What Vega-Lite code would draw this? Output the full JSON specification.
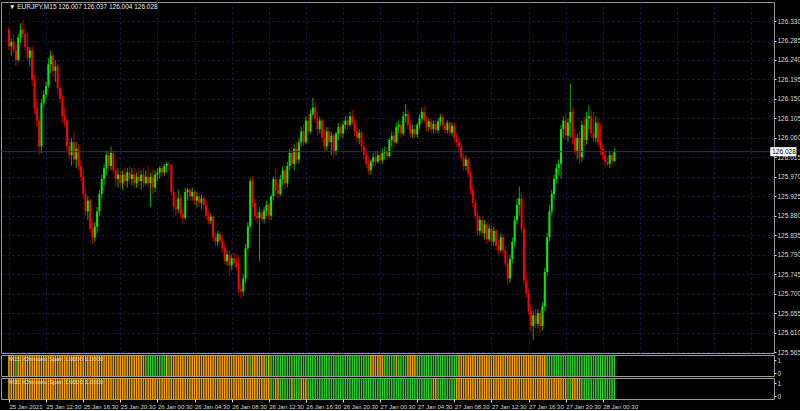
{
"$schema": "https://vega.github.io/schema/vega-lite/v6.json",
"background": "#000000",
"padding": {"top": 1, "left": 0, "right": 0, "bottom": 0},
"bounds": "flush",
"spacing": 2,
"config": {
  "view": {"stroke": "#9a9a9a", "strokeWidth": 1},
  "axis": {"labelFont": "Liberation Sans", "labelFontSize": 6.5, "labelColor": "#d8d8d8", "tickColor": "#d8d8d8", "gridColor": "#1e1e58", "gridDash": [2, 3], "gridWidth": 1, "domain": false, "labelOverlap": false},
  "text": {"font": "Liberation Sans"}
},
"datasets": {
"bars": [
{"i":0,"o":126.310,"h":126.318,"l":126.262,"c":126.272,"a":0,"b":0},
{"i":1,"o":126.272,"h":126.290,"l":126.250,"c":126.282,"a":0,"b":0},
{"i":2,"o":126.282,"h":126.300,"l":126.255,"c":126.262,"a":0,"b":0},
{"i":3,"o":126.262,"h":126.275,"l":126.225,"c":126.240,"a":1,"b":0},
{"i":4,"o":126.240,"h":126.300,"l":126.235,"c":126.292,"a":0,"b":0},
{"i":5,"o":126.292,"h":126.325,"l":126.280,"c":126.310,"a":0,"b":0},
{"i":6,"o":126.310,"h":126.332,"l":126.290,"c":126.300,"a":0,"b":0},
{"i":7,"o":126.300,"h":126.312,"l":126.262,"c":126.270,"a":0,"b":0},
{"i":8,"o":126.270,"h":126.302,"l":126.238,"c":126.245,"a":0,"b":0},
{"i":9,"o":126.245,"h":126.270,"l":126.225,"c":126.262,"a":0,"b":0},
{"i":10,"o":126.262,"h":126.272,"l":126.180,"c":126.195,"a":0,"b":0},
{"i":11,"o":126.195,"h":126.205,"l":126.115,"c":126.130,"a":0,"b":0},
{"i":12,"o":126.130,"h":126.150,"l":126.085,"c":126.100,"a":0,"b":0},
{"i":13,"o":126.100,"h":126.110,"l":126.020,"c":126.040,"a":0,"b":0},
{"i":14,"o":126.040,"h":126.150,"l":126.025,"c":126.140,"a":0,"b":0},
{"i":15,"o":126.140,"h":126.170,"l":126.130,"c":126.160,"a":0,"b":0},
{"i":16,"o":126.160,"h":126.190,"l":126.150,"c":126.180,"a":0,"b":0},
{"i":17,"o":126.180,"h":126.245,"l":126.175,"c":126.230,"a":0,"b":0},
{"i":18,"o":126.230,"h":126.262,"l":126.210,"c":126.250,"a":0,"b":0},
{"i":19,"o":126.250,"h":126.258,"l":126.200,"c":126.215,"a":0,"b":0},
{"i":20,"o":126.215,"h":126.240,"l":126.190,"c":126.225,"a":0,"b":0},
{"i":21,"o":126.225,"h":126.232,"l":126.160,"c":126.175,"a":0,"b":0},
{"i":22,"o":126.175,"h":126.180,"l":126.140,"c":126.150,"a":0,"b":0},
{"i":23,"o":126.150,"h":126.160,"l":126.095,"c":126.110,"a":0,"b":0},
{"i":24,"o":126.110,"h":126.130,"l":126.085,"c":126.100,"a":0,"b":0},
{"i":25,"o":126.100,"h":126.105,"l":126.030,"c":126.040,"a":0,"b":0},
{"i":26,"o":126.040,"h":126.060,"l":126.010,"c":126.020,"a":0,"b":0},
{"i":27,"o":126.020,"h":126.060,"l":125.995,"c":126.050,"a":0,"b":0},
{"i":28,"o":126.050,"h":126.075,"l":126.000,"c":126.010,"a":0,"b":0},
{"i":29,"o":126.010,"h":126.050,"l":125.990,"c":126.035,"a":0,"b":0},
{"i":30,"o":126.035,"h":126.045,"l":125.985,"c":125.995,"a":0,"b":0},
{"i":31,"o":125.995,"h":126.010,"l":125.960,"c":125.970,"a":0,"b":0},
{"i":32,"o":125.970,"h":125.985,"l":125.920,"c":125.930,"a":0,"b":0},
{"i":33,"o":125.930,"h":125.945,"l":125.880,"c":125.890,"a":0,"b":0},
{"i":34,"o":125.890,"h":125.925,"l":125.870,"c":125.915,"a":0,"b":0},
{"i":35,"o":125.915,"h":125.920,"l":125.840,"c":125.850,"a":0,"b":0},
{"i":36,"o":125.850,"h":125.865,"l":125.815,"c":125.830,"a":0,"b":0},
{"i":37,"o":125.830,"h":125.865,"l":125.820,"c":125.855,"a":0,"b":0},
{"i":38,"o":125.855,"h":125.900,"l":125.840,"c":125.890,"a":0,"b":0},
{"i":39,"o":125.890,"h":125.940,"l":125.880,"c":125.930,"a":0,"b":0},
{"i":40,"o":125.930,"h":125.975,"l":125.920,"c":125.965,"a":0,"b":0},
{"i":41,"o":125.965,"h":126.000,"l":125.950,"c":125.990,"a":0,"b":0},
{"i":42,"o":125.990,"h":126.030,"l":125.975,"c":126.020,"a":0,"b":0},
{"i":43,"o":126.020,"h":126.028,"l":125.985,"c":125.995,"a":0,"b":0},
{"i":44,"o":125.995,"h":126.040,"l":125.985,"c":126.025,"a":0,"b":0},
{"i":45,"o":126.025,"h":126.030,"l":125.975,"c":125.985,"a":0,"b":0},
{"i":46,"o":125.985,"h":125.995,"l":125.950,"c":125.965,"a":0,"b":0},
{"i":47,"o":125.965,"h":125.990,"l":125.945,"c":125.975,"a":0,"b":0},
{"i":48,"o":125.975,"h":125.985,"l":125.945,"c":125.955,"a":0,"b":0},
{"i":49,"o":125.955,"h":125.985,"l":125.940,"c":125.975,"a":0,"b":0},
{"i":50,"o":125.975,"h":125.990,"l":125.950,"c":125.960,"a":0,"b":0},
{"i":51,"o":125.960,"h":125.990,"l":125.945,"c":125.980,"a":0,"b":0},
{"i":52,"o":125.980,"h":125.995,"l":125.955,"c":125.965,"a":0,"b":0},
{"i":53,"o":125.965,"h":125.990,"l":125.950,"c":125.975,"a":0,"b":0},
{"i":54,"o":125.975,"h":125.990,"l":125.945,"c":125.955,"a":0,"b":0},
{"i":55,"o":125.955,"h":125.980,"l":125.945,"c":125.970,"a":0,"b":0},
{"i":56,"o":125.970,"h":125.990,"l":125.950,"c":125.960,"a":0,"b":0},
{"i":57,"o":125.960,"h":125.985,"l":125.940,"c":125.975,"a":0,"b":0},
{"i":58,"o":125.975,"h":125.990,"l":125.945,"c":125.955,"a":0,"b":0},
{"i":59,"o":125.955,"h":125.985,"l":125.950,"c":125.970,"a":1,"b":0},
{"i":60,"o":125.970,"h":125.995,"l":125.945,"c":125.955,"a":1,"b":0},
{"i":61,"o":125.955,"h":125.980,"l":125.900,"c":125.970,"a":1,"b":0},
{"i":62,"o":125.970,"h":125.985,"l":125.930,"c":125.945,"a":1,"b":0},
{"i":63,"o":125.945,"h":125.985,"l":125.935,"c":125.975,"a":1,"b":0},
{"i":64,"o":125.975,"h":125.990,"l":125.960,"c":125.980,"a":1,"b":0},
{"i":65,"o":125.980,"h":125.995,"l":125.965,"c":125.990,"a":1,"b":0},
{"i":66,"o":125.990,"h":125.998,"l":125.970,"c":125.980,"a":1,"b":0},
{"i":67,"o":125.980,"h":126.000,"l":125.972,"c":125.995,"a":1,"b":0},
{"i":68,"o":125.995,"h":126.005,"l":125.980,"c":126.000,"a":0,"b":0},
{"i":69,"o":126.000,"h":126.008,"l":125.985,"c":125.998,"a":1,"b":0},
{"i":70,"o":125.998,"h":126.000,"l":125.925,"c":125.935,"a":0,"b":0},
{"i":71,"o":125.935,"h":125.945,"l":125.890,"c":125.900,"a":0,"b":0},
{"i":72,"o":125.900,"h":125.925,"l":125.880,"c":125.895,"a":0,"b":0},
{"i":73,"o":125.895,"h":125.940,"l":125.885,"c":125.920,"a":0,"b":0},
{"i":74,"o":125.920,"h":125.930,"l":125.875,"c":125.885,"a":0,"b":0},
{"i":75,"o":125.885,"h":125.895,"l":125.860,"c":125.875,"a":0,"b":0},
{"i":76,"o":125.875,"h":125.945,"l":125.870,"c":125.935,"a":0,"b":0},
{"i":77,"o":125.935,"h":125.945,"l":125.915,"c":125.940,"a":0,"b":0},
{"i":78,"o":125.940,"h":125.945,"l":125.915,"c":125.925,"a":0,"b":0},
{"i":79,"o":125.925,"h":125.945,"l":125.915,"c":125.935,"a":0,"b":0},
{"i":80,"o":125.935,"h":125.940,"l":125.905,"c":125.915,"a":0,"b":0},
{"i":81,"o":125.915,"h":125.935,"l":125.900,"c":125.925,"a":0,"b":0},
{"i":82,"o":125.925,"h":125.932,"l":125.900,"c":125.910,"a":0,"b":0},
{"i":83,"o":125.910,"h":125.930,"l":125.895,"c":125.920,"a":0,"b":0},
{"i":84,"o":125.920,"h":125.925,"l":125.895,"c":125.905,"a":0,"b":0},
{"i":85,"o":125.905,"h":125.915,"l":125.870,"c":125.880,"a":0,"b":0},
{"i":86,"o":125.880,"h":125.890,"l":125.860,"c":125.868,"a":0,"b":0},
{"i":87,"o":125.868,"h":125.885,"l":125.860,"c":125.878,"a":0,"b":0},
{"i":88,"o":125.878,"h":125.880,"l":125.820,"c":125.830,"a":0,"b":0},
{"i":89,"o":125.830,"h":125.840,"l":125.810,"c":125.820,"a":0,"b":0},
{"i":90,"o":125.820,"h":125.845,"l":125.810,"c":125.838,"a":0,"b":0},
{"i":91,"o":125.838,"h":125.842,"l":125.815,"c":125.822,"a":0,"b":0},
{"i":92,"o":125.822,"h":125.830,"l":125.795,"c":125.805,"a":0,"b":0},
{"i":93,"o":125.805,"h":125.815,"l":125.768,"c":125.775,"a":0,"b":0},
{"i":94,"o":125.775,"h":125.800,"l":125.765,"c":125.790,"a":0,"b":0},
{"i":95,"o":125.790,"h":125.800,"l":125.740,"c":125.765,"a":0,"b":0},
{"i":96,"o":125.765,"h":125.790,"l":125.755,"c":125.782,"a":0,"b":0},
{"i":97,"o":125.782,"h":125.795,"l":125.760,"c":125.770,"a":0,"b":0},
{"i":98,"o":125.770,"h":125.790,"l":125.755,"c":125.762,"a":0,"b":0},
{"i":99,"o":125.762,"h":125.785,"l":125.700,"c":125.710,"a":0,"b":0},
{"i":100,"o":125.710,"h":125.725,"l":125.688,"c":125.705,"a":0,"b":0},
{"i":101,"o":125.705,"h":125.745,"l":125.695,"c":125.735,"a":0,"b":0},
{"i":102,"o":125.735,"h":125.815,"l":125.725,"c":125.805,"a":0,"b":0},
{"i":103,"o":125.805,"h":125.865,"l":125.800,"c":125.855,"a":0,"b":0},
{"i":104,"o":125.855,"h":125.968,"l":125.850,"c":125.960,"a":1,"b":0},
{"i":105,"o":125.960,"h":125.972,"l":125.900,"c":125.910,"a":0,"b":0},
{"i":106,"o":125.910,"h":125.920,"l":125.870,"c":125.880,"a":0,"b":0},
{"i":107,"o":125.880,"h":125.895,"l":125.860,"c":125.875,"a":0,"b":0},
{"i":108,"o":125.875,"h":125.900,"l":125.775,"c":125.888,"a":0,"b":0},
{"i":109,"o":125.888,"h":125.895,"l":125.865,"c":125.872,"a":0,"b":0},
{"i":110,"o":125.872,"h":125.900,"l":125.862,"c":125.892,"a":0,"b":0},
{"i":111,"o":125.892,"h":125.915,"l":125.880,"c":125.905,"a":1,"b":0},
{"i":112,"o":125.905,"h":125.910,"l":125.870,"c":125.880,"a":0,"b":0},
{"i":113,"o":125.880,"h":125.930,"l":125.870,"c":125.925,"a":1,"b":1},
{"i":114,"o":125.925,"h":125.970,"l":125.915,"c":125.965,"a":1,"b":1},
{"i":115,"o":125.965,"h":125.990,"l":125.925,"c":125.940,"a":1,"b":0},
{"i":116,"o":125.940,"h":125.955,"l":125.920,"c":125.930,"a":1,"b":0},
{"i":117,"o":125.930,"h":125.975,"l":125.925,"c":125.965,"a":1,"b":1},
{"i":118,"o":125.965,"h":125.995,"l":125.950,"c":125.985,"a":1,"b":1},
{"i":119,"o":125.985,"h":125.995,"l":125.940,"c":125.955,"a":1,"b":1},
{"i":120,"o":125.955,"h":126.005,"l":125.945,"c":125.995,"a":1,"b":1},
{"i":121,"o":125.995,"h":126.035,"l":125.985,"c":126.025,"a":1,"b":1},
{"i":122,"o":126.025,"h":126.040,"l":125.990,"c":126.000,"a":1,"b":0},
{"i":123,"o":126.000,"h":126.045,"l":125.985,"c":126.035,"a":1,"b":1},
{"i":124,"o":126.035,"h":126.050,"l":126.000,"c":126.010,"a":1,"b":1},
{"i":125,"o":126.010,"h":126.060,"l":126.000,"c":126.050,"a":1,"b":1},
{"i":126,"o":126.050,"h":126.085,"l":126.040,"c":126.075,"a":1,"b":0},
{"i":127,"o":126.075,"h":126.090,"l":126.040,"c":126.050,"a":1,"b":0},
{"i":128,"o":126.050,"h":126.110,"l":126.045,"c":126.100,"a":1,"b":0},
{"i":129,"o":126.100,"h":126.115,"l":126.065,"c":126.075,"a":1,"b":1},
{"i":130,"o":126.075,"h":126.125,"l":126.070,"c":126.115,"a":1,"b":1},
{"i":131,"o":126.115,"h":126.152,"l":126.110,"c":126.130,"a":1,"b":1},
{"i":132,"o":126.130,"h":126.145,"l":126.095,"c":126.105,"a":1,"b":1},
{"i":133,"o":126.105,"h":126.120,"l":126.065,"c":126.080,"a":1,"b":1},
{"i":134,"o":126.080,"h":126.110,"l":126.070,"c":126.100,"a":1,"b":1},
{"i":135,"o":126.100,"h":126.105,"l":126.050,"c":126.060,"a":1,"b":1},
{"i":136,"o":126.060,"h":126.080,"l":126.030,"c":126.040,"a":1,"b":1},
{"i":137,"o":126.040,"h":126.085,"l":126.030,"c":126.075,"a":1,"b":1},
{"i":138,"o":126.075,"h":126.085,"l":126.040,"c":126.050,"a":1,"b":1},
{"i":139,"o":126.050,"h":126.075,"l":126.020,"c":126.065,"a":1,"b":1},
{"i":140,"o":126.065,"h":126.070,"l":126.015,"c":126.030,"a":1,"b":1},
{"i":141,"o":126.030,"h":126.075,"l":126.020,"c":126.070,"a":1,"b":1},
{"i":142,"o":126.070,"h":126.095,"l":126.055,"c":126.085,"a":1,"b":1},
{"i":143,"o":126.085,"h":126.095,"l":126.060,"c":126.070,"a":1,"b":1},
{"i":144,"o":126.070,"h":126.100,"l":126.060,"c":126.090,"a":1,"b":1},
{"i":145,"o":126.090,"h":126.110,"l":126.080,"c":126.100,"a":1,"b":1},
{"i":146,"o":126.100,"h":126.112,"l":126.080,"c":126.090,"a":1,"b":1},
{"i":147,"o":126.090,"h":126.120,"l":126.085,"c":126.110,"a":1,"b":1},
{"i":148,"o":126.110,"h":126.125,"l":126.090,"c":126.095,"a":1,"b":1},
{"i":149,"o":126.095,"h":126.105,"l":126.065,"c":126.075,"a":1,"b":1},
{"i":150,"o":126.075,"h":126.090,"l":126.050,"c":126.060,"a":1,"b":1},
{"i":151,"o":126.060,"h":126.080,"l":126.045,"c":126.072,"a":1,"b":1},
{"i":152,"o":126.072,"h":126.078,"l":126.030,"c":126.040,"a":1,"b":1},
{"i":153,"o":126.040,"h":126.050,"l":126.010,"c":126.020,"a":1,"b":1},
{"i":154,"o":126.020,"h":126.035,"l":125.990,"c":126.000,"a":1,"b":1},
{"i":155,"o":126.000,"h":126.015,"l":125.975,"c":125.985,"a":1,"b":1},
{"i":156,"o":125.985,"h":126.010,"l":125.975,"c":126.005,"a":0,"b":1},
{"i":157,"o":126.005,"h":126.025,"l":125.995,"c":126.015,"a":0,"b":1},
{"i":158,"o":126.015,"h":126.030,"l":125.995,"c":126.005,"a":0,"b":1},
{"i":159,"o":126.005,"h":126.030,"l":126.000,"c":126.020,"a":0,"b":1},
{"i":160,"o":126.020,"h":126.028,"l":126.000,"c":126.008,"a":0,"b":1},
{"i":161,"o":126.008,"h":126.035,"l":126.000,"c":126.025,"a":0,"b":1},
{"i":162,"o":126.025,"h":126.040,"l":126.010,"c":126.030,"a":1,"b":1},
{"i":163,"o":126.030,"h":126.040,"l":126.010,"c":126.018,"a":1,"b":1},
{"i":164,"o":126.018,"h":126.060,"l":126.015,"c":126.055,"a":1,"b":1},
{"i":165,"o":126.055,"h":126.075,"l":126.040,"c":126.065,"a":1,"b":1},
{"i":166,"o":126.065,"h":126.075,"l":126.040,"c":126.050,"a":1,"b":1},
{"i":167,"o":126.050,"h":126.095,"l":126.045,"c":126.085,"a":0,"b":1},
{"i":168,"o":126.085,"h":126.100,"l":126.070,"c":126.090,"a":1,"b":1},
{"i":169,"o":126.090,"h":126.100,"l":126.060,"c":126.070,"a":1,"b":1},
{"i":170,"o":126.070,"h":126.120,"l":126.065,"c":126.110,"a":1,"b":1},
{"i":171,"o":126.110,"h":126.138,"l":126.095,"c":126.115,"a":1,"b":1},
{"i":172,"o":126.115,"h":126.125,"l":126.080,"c":126.090,"a":0,"b":1},
{"i":173,"o":126.090,"h":126.100,"l":126.060,"c":126.070,"a":0,"b":1},
{"i":174,"o":126.070,"h":126.090,"l":126.060,"c":126.080,"a":0,"b":1},
{"i":175,"o":126.080,"h":126.090,"l":126.060,"c":126.068,"a":0,"b":1},
{"i":176,"o":126.068,"h":126.095,"l":126.060,"c":126.090,"a":1,"b":1},
{"i":177,"o":126.090,"h":126.115,"l":126.080,"c":126.105,"a":1,"b":1},
{"i":178,"o":126.105,"h":126.130,"l":126.095,"c":126.120,"a":1,"b":1},
{"i":179,"o":126.120,"h":126.135,"l":126.095,"c":126.100,"a":1,"b":1},
{"i":180,"o":126.100,"h":126.110,"l":126.075,"c":126.085,"a":1,"b":1},
{"i":181,"o":126.085,"h":126.105,"l":126.075,"c":126.098,"a":1,"b":1},
{"i":182,"o":126.098,"h":126.105,"l":126.070,"c":126.080,"a":1,"b":1},
{"i":183,"o":126.080,"h":126.100,"l":126.070,"c":126.092,"a":1,"b":0},
{"i":184,"o":126.092,"h":126.100,"l":126.070,"c":126.078,"a":1,"b":0},
{"i":185,"o":126.078,"h":126.105,"l":126.070,"c":126.098,"a":1,"b":1},
{"i":186,"o":126.098,"h":126.115,"l":126.088,"c":126.108,"a":1,"b":1},
{"i":187,"o":126.108,"h":126.115,"l":126.080,"c":126.088,"a":1,"b":1},
{"i":188,"o":126.088,"h":126.095,"l":126.070,"c":126.078,"a":1,"b":1},
{"i":189,"o":126.078,"h":126.100,"l":126.070,"c":126.095,"a":1,"b":1},
{"i":190,"o":126.095,"h":126.100,"l":126.065,"c":126.072,"a":1,"b":1},
{"i":191,"o":126.072,"h":126.095,"l":126.065,"c":126.088,"a":1,"b":1},
{"i":192,"o":126.088,"h":126.095,"l":126.050,"c":126.060,"a":1,"b":1},
{"i":193,"o":126.060,"h":126.070,"l":126.040,"c":126.050,"a":1,"b":0},
{"i":194,"o":126.050,"h":126.060,"l":126.030,"c":126.040,"a":0,"b":0},
{"i":195,"o":126.040,"h":126.050,"l":126.005,"c":126.015,"a":0,"b":0},
{"i":196,"o":126.015,"h":126.025,"l":125.985,"c":125.995,"a":0,"b":0},
{"i":197,"o":125.995,"h":126.020,"l":125.985,"c":126.010,"a":0,"b":0},
{"i":198,"o":126.010,"h":126.015,"l":125.970,"c":125.978,"a":0,"b":0},
{"i":199,"o":125.978,"h":125.985,"l":125.930,"c":125.940,"a":0,"b":0},
{"i":200,"o":125.940,"h":125.950,"l":125.900,"c":125.910,"a":0,"b":0},
{"i":201,"o":125.910,"h":125.920,"l":125.870,"c":125.880,"a":0,"b":0},
{"i":202,"o":125.880,"h":125.890,"l":125.835,"c":125.845,"a":0,"b":0},
{"i":203,"o":125.845,"h":125.880,"l":125.835,"c":125.870,"a":0,"b":0},
{"i":204,"o":125.870,"h":125.880,"l":125.830,"c":125.840,"a":0,"b":0},
{"i":205,"o":125.840,"h":125.870,"l":125.825,"c":125.860,"a":0,"b":0},
{"i":206,"o":125.860,"h":125.865,"l":125.815,"c":125.825,"a":0,"b":0},
{"i":207,"o":125.825,"h":125.860,"l":125.820,"c":125.850,"a":0,"b":0},
{"i":208,"o":125.850,"h":125.860,"l":125.810,"c":125.820,"a":0,"b":0},
{"i":209,"o":125.820,"h":125.855,"l":125.810,"c":125.845,"a":0,"b":0},
{"i":210,"o":125.845,"h":125.850,"l":125.800,"c":125.810,"a":0,"b":0},
{"i":211,"o":125.810,"h":125.825,"l":125.790,"c":125.800,"a":0,"b":0},
{"i":212,"o":125.800,"h":125.840,"l":125.795,"c":125.830,"a":0,"b":0},
{"i":213,"o":125.830,"h":125.838,"l":125.790,"c":125.800,"a":0,"b":0},
{"i":214,"o":125.800,"h":125.810,"l":125.760,"c":125.770,"a":0,"b":0},
{"i":215,"o":125.770,"h":125.785,"l":125.720,"c":125.735,"a":0,"b":0},
{"i":216,"o":125.735,"h":125.790,"l":125.725,"c":125.780,"a":0,"b":0},
{"i":217,"o":125.780,"h":125.830,"l":125.770,"c":125.820,"a":0,"b":0},
{"i":218,"o":125.820,"h":125.880,"l":125.810,"c":125.870,"a":0,"b":0},
{"i":219,"o":125.870,"h":125.920,"l":125.860,"c":125.905,"a":0,"b":0},
{"i":220,"o":125.905,"h":125.948,"l":125.880,"c":125.920,"a":0,"b":0},
{"i":221,"o":125.920,"h":125.930,"l":125.840,"c":125.850,"a":0,"b":0},
{"i":222,"o":125.850,"h":125.860,"l":125.720,"c":125.730,"a":0,"b":0},
{"i":223,"o":125.730,"h":125.745,"l":125.690,"c":125.700,"a":0,"b":0},
{"i":224,"o":125.700,"h":125.710,"l":125.650,"c":125.660,"a":0,"b":0},
{"i":225,"o":125.660,"h":125.675,"l":125.610,"c":125.625,"a":0,"b":0},
{"i":226,"o":125.625,"h":125.660,"l":125.592,"c":125.650,"a":0,"b":0},
{"i":227,"o":125.650,"h":125.665,"l":125.620,"c":125.630,"a":0,"b":0},
{"i":228,"o":125.630,"h":125.665,"l":125.620,"c":125.655,"a":0,"b":0},
{"i":229,"o":125.655,"h":125.665,"l":125.610,"c":125.625,"a":0,"b":0},
{"i":230,"o":125.625,"h":125.680,"l":125.615,"c":125.670,"a":0,"b":0},
{"i":231,"o":125.670,"h":125.760,"l":125.660,"c":125.750,"a":0,"b":0},
{"i":232,"o":125.750,"h":125.840,"l":125.740,"c":125.830,"a":1,"b":0},
{"i":233,"o":125.830,"h":125.905,"l":125.820,"c":125.890,"a":1,"b":0},
{"i":234,"o":125.890,"h":125.940,"l":125.880,"c":125.930,"a":1,"b":0},
{"i":235,"o":125.930,"h":125.975,"l":125.920,"c":125.965,"a":1,"b":0},
{"i":236,"o":125.965,"h":126.000,"l":125.955,"c":125.990,"a":1,"b":0},
{"i":237,"o":125.990,"h":126.010,"l":125.975,"c":126.000,"a":1,"b":0},
{"i":238,"o":126.000,"h":126.090,"l":125.965,"c":126.080,"a":1,"b":0},
{"i":239,"o":126.080,"h":126.110,"l":126.060,"c":126.100,"a":1,"b":0},
{"i":240,"o":126.100,"h":126.115,"l":126.055,"c":126.065,"a":1,"b":0},
{"i":241,"o":126.065,"h":126.105,"l":126.050,"c":126.095,"a":1,"b":1},
{"i":242,"o":126.095,"h":126.185,"l":126.060,"c":126.120,"a":1,"b":1},
{"i":243,"o":126.120,"h":126.130,"l":126.045,"c":126.060,"a":1,"b":0},
{"i":244,"o":126.060,"h":126.080,"l":126.020,"c":126.030,"a":1,"b":0},
{"i":245,"o":126.030,"h":126.070,"l":126.010,"c":126.060,"a":1,"b":0},
{"i":246,"o":126.060,"h":126.075,"l":126.000,"c":126.015,"a":1,"b":0},
{"i":247,"o":126.015,"h":126.100,"l":126.005,"c":126.090,"a":1,"b":1},
{"i":248,"o":126.090,"h":126.110,"l":126.040,"c":126.055,"a":1,"b":1},
{"i":249,"o":126.055,"h":126.120,"l":126.045,"c":126.105,"a":1,"b":1},
{"i":250,"o":126.105,"h":126.135,"l":126.080,"c":126.110,"a":1,"b":1},
{"i":251,"o":126.110,"h":126.125,"l":126.060,"c":126.070,"a":1,"b":1},
{"i":252,"o":126.070,"h":126.120,"l":126.050,"c":126.060,"a":1,"b":1},
{"i":253,"o":126.060,"h":126.110,"l":126.050,"c":126.095,"a":1,"b":1},
{"i":254,"o":126.095,"h":126.105,"l":126.040,"c":126.050,"a":1,"b":1},
{"i":255,"o":126.050,"h":126.090,"l":126.020,"c":126.035,"a":1,"b":1},
{"i":256,"o":126.035,"h":126.045,"l":126.010,"c":126.020,"a":1,"b":1},
{"i":257,"o":126.020,"h":126.030,"l":125.995,"c":126.005,"a":1,"b":1},
{"i":258,"o":126.005,"h":126.015,"l":125.995,"c":126.000,"a":1,"b":1},
{"i":259,"o":126.000,"h":126.030,"l":125.990,"c":126.020,"a":1,"b":1},
{"i":260,"o":126.020,"h":126.025,"l":125.995,"c":126.007,"a":1,"b":1},
{"i":261,"o":126.007,"h":126.037,"l":126.004,"c":126.028,"a":1,"b":1}
]
},
"vconcat": [
{
  "width": 773, "height": 351,
  "data": {"name": "bars"},
  "layer": [
    {
      "mark": {"type": "rule", "strokeWidth": 1},
      "encoding": {
        "x": {"field": "i", "type": "quantitative", "scale": {"domain": [-1.277, 327.66], "nice": false, "zero": false},
              "axis": {"values": [0,16,32,48,64,80,96,112,128,144,160,176,192,208,224,240,256,272,288,304,320], "tickCount": 50, "grid": true, "labels": false, "ticks": false, "title": null}},
        "y": {"field": "l", "type": "quantitative", "scale": {"domain": [125.5627, 126.374], "nice": false, "zero": false},
              "axis": {"orient": "right", "values": [126.33,126.285,126.24,126.195,126.15,126.105,126.06,126.015,125.97,125.925,125.88,125.835,125.79,125.745,125.7,125.655,125.61,125.565], "tickCount": 50, "format": ".3f", "grid": true, "tickSize": 2, "labelPadding": 1, "labelOverlap": false, "labelBound": false, "title": null}},
        "y2": {"field": "h"},
        "color": {"condition": {"test": "datum.c >= datum.o", "value": "#10a810"}, "value": "#b80000"}
      }
    },
    {
      "mark": {"type": "bar", "width": 2},
      "encoding": {
        "x": {"field": "i", "type": "quantitative"},
        "y": {"field": "o", "type": "quantitative"},
        "y2": {"field": "c"},
        "color": {"condition": {"test": "datum.c >= datum.o", "value": "#00f000"}, "value": "#ff0000"}
      }
    },
    {
      "data": {"values": [{}]},
      "mark": {"type": "rule", "color": "#2a2a9a", "strokeWidth": 1},
      "encoding": {"y": {"datum": 126.028, "type": "quantitative"}}
    },
    {
      "data": {"values": [{}]},
      "mark": {"type": "rect", "color": "#ffffff"},
      "encoding": {
        "x": {"datum": 328.2, "type": "quantitative"}, "x2": {"datum": 339.5},
        "y": {"datum": 126.0385, "type": "quantitative"}, "y2": {"datum": 126.0175}
      }
    },
    {
      "data": {"values": [{}]},
      "mark": {"type": "text", "text": "126.028", "color": "#000000", "fontSize": 6.5, "align": "left", "baseline": "middle", "dx": 2},
      "encoding": {"x": {"datum": 328.2, "type": "quantitative"}, "y": {"datum": 126.028, "type": "quantitative"}}
    },
    {
      "data": {"values": [{}]},
      "mark": {"type": "text", "text": "▼ EURJPY,M15  126.007 126.037 126.004 126.028", "color": "#e8e8e8", "fontSize": 6.5, "align": "left", "baseline": "middle", "dx": 3},
      "encoding": {"x": {"datum": -1.277, "type": "quantitative"}, "y": {"datum": 126.362, "type": "quantitative"}}
    }
  ]
},
{
  "width": 773, "height": 21,
  "data": {"name": "bars"},
  "layer": [
    {
      "mark": {"type": "bar", "width": 1.6},
      "encoding": {
        "x": {"field": "i", "type": "quantitative", "scale": {"domain": [-1.277, 327.66], "nice": false, "zero": false}, "axis": null},
        "y": {"datum": 1.385, "type": "quantitative", "scale": {"domain": [-0.23, 1.385], "nice": false, "zero": false},
              "axis": {"orient": "right", "values": [0, 1], "tickCount": 5, "format": "d", "grid": false, "tickSize": 2, "labelPadding": 1, "labelOverlap": false, "title": null}},
        "y2": {"datum": -0.23},
        "color": {"condition": {"test": "datum.a == 1", "value": "#30c830"}, "value": "#f5a000"}
      }
    },
    {
      "data": {"values": [{}]},
      "mark": {"type": "text", "text": "M15 iChimoku Span 1.0000 1.0000", "color": "#f4f4f4", "opacity": 0.8, "fontSize": 6, "align": "left", "baseline": "middle", "dx": 3},
      "encoding": {"x": {"datum": -1.277, "type": "quantitative"}, "y": {"datum": 1.08, "type": "quantitative"}}
    }
  ]
},
{
  "width": 773, "height": 21,
  "data": {"name": "bars"},
  "layer": [
    {
      "mark": {"type": "bar", "width": 1.6},
      "encoding": {
        "x": {"field": "i", "type": "quantitative", "scale": {"domain": [-1.277, 327.66], "nice": false, "zero": false},
              "axis": {"values": [0,16,32,48,64,80,96,112,128,144,160,176,192,208,224,240,256], "tickCount": 50, "grid": false, "tickSize": 3, "labelPadding": 1, "labelFontSize": 6, "labelAlign": "left", "labelFlush": false, "labelOverlap": false, "title": null,
                       "labelExpr": "['25 Jan 2021','25 Jan 12:30','25 Jan 16:30','25 Jan 20:30','26 Jan 00:30','26 Jan 04:30','26 Jan 08:30','26 Jan 12:30','26 Jan 16:30','26 Jan 20:30','27 Jan 00:30','27 Jan 04:30','27 Jan 08:30','27 Jan 12:30','27 Jan 16:30','27 Jan 20:30','28 Jan 00:30'][round(datum.value/16)]"}},
        "y": {"datum": 1.385, "type": "quantitative", "scale": {"domain": [-0.23, 1.385], "nice": false, "zero": false},
              "axis": {"orient": "right", "values": [0, 1], "tickCount": 5, "format": "d", "grid": false, "tickSize": 2, "labelPadding": 1, "labelOverlap": false, "title": null}},
        "y2": {"datum": -0.23},
        "color": {"condition": {"test": "datum.b == 1", "value": "#30c830"}, "value": "#f5a000"}
      }
    },
    {
      "data": {"values": [{}]},
      "mark": {"type": "text", "text": "M30 iChimoku Span 1.0000 1.0000", "color": "#f4f4f4", "opacity": 0.8, "fontSize": 6, "align": "left", "baseline": "middle", "dx": 3},
      "encoding": {"x": {"datum": -1.277, "type": "quantitative"}, "y": {"datum": 1.08, "type": "quantitative"}}
    }
  ]
}
]
}
